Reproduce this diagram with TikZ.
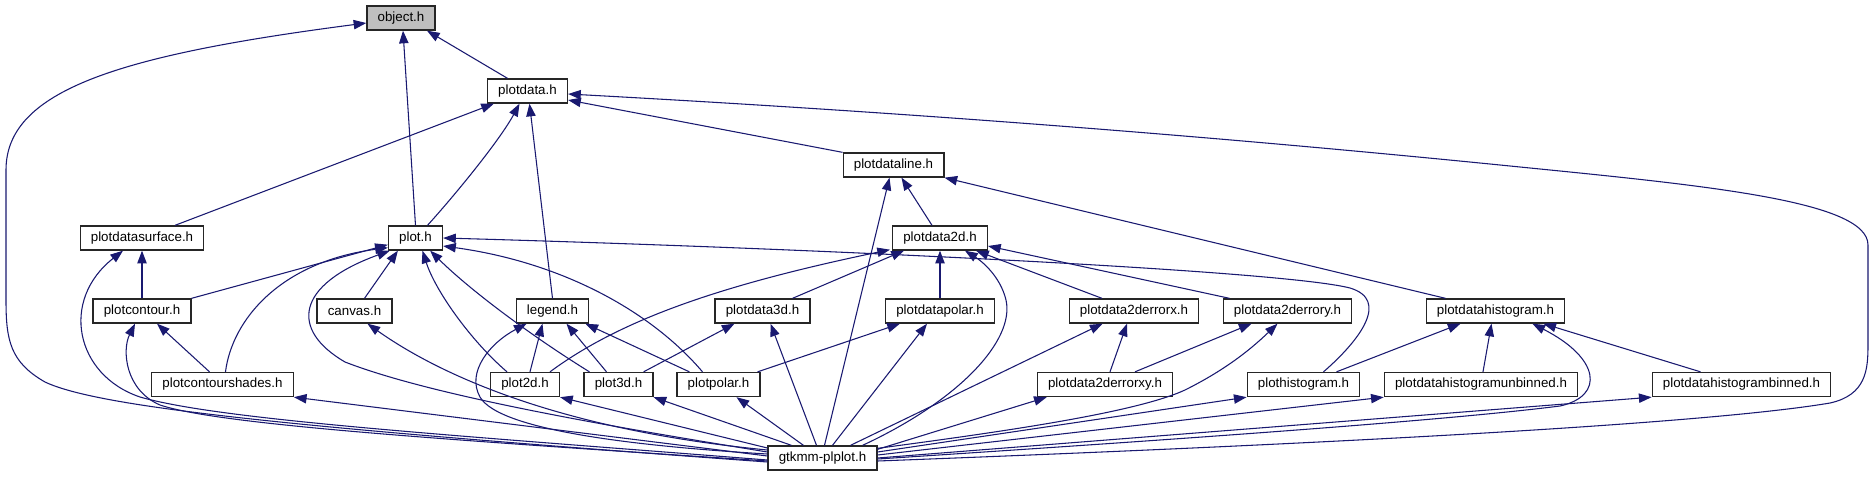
\documentclass[tikz,border=0pt]{standalone}
\usepackage{fontspec}
\setmainfont{Liberation Sans}
\usepackage{tikz}
\usetikzlibrary{arrows.meta,calc}
\definecolor{edgeblue}{HTML}{191970}

\begin{document}
\begin{tikzpicture}[x=0.75pt,y=-0.75pt,
    file/.style={draw=black!85,line width=1pt,fill=white,inner xsep=8pt,inner ysep=0pt,
                 minimum height=18pt,font=\fontsize{10}{12}\selectfont},
    dep/.style={draw=edgeblue,line width=0.8pt,-{Triangle[length=9.5pt,width=7pt]}}]

   \useasboundingbox (0,0) rectangle (1875,476);
   %nodes
   \node[file,fill=black!25] (object) at (401,18) {object.h};
   \node[file] (plotdata) at (527.5,91) {plotdata.h};
   \node[file] (pline) at (893.5,165) {plotdataline.h};
   \node[file] (psurf) at (142,238) {plotdatasurface.h};
   \node[file] (plot) at (415.5,238) {plot.h};
   \node[file] (p2d) at (940,238) {plotdata2d.h};
   \node[file] (pcont) at (142,311) {plotcontour.h};
   \node[file] (canvas) at (354.5,311) {canvas.h};
   \node[file] (legend) at (552.5,311) {legend.h};
   \node[file] (p3d) at (762.5,311) {plotdata3d.h};
   \node[file] (ppolar) at (940,311) {plotdatapolar.h};
   \node[file] (perrx) at (1134,311) {plotdata2derrorx.h};
   \node[file] (perry) at (1287.5,311) {plotdata2derrory.h};
   \node[file] (phist) at (1495.5,311) {plotdatahistogram.h};
   \node[file] (pshades) at (222.5,384.5) {plotcontourshades.h};
   \node[file] (plottwo) at (525,384.5) {plot2d.h};
   \node[file] (plotthree) at (618.5,384.5) {plot3d.h};
   \node[file] (plotpolar) at (718.5,384.5) {plotpolar.h};
   \node[file] (perrxy) at (1105,384.5) {plotdata2derrorxy.h};
   \node[file] (plothist) at (1303.5,384.5) {plothistogram.h};
   \node[file] (punbin) at (1481,384.5) {plotdatahistogramunbinned.h};
   \node[file] (pbin) at (1741.5,384.5) {plotdatahistogrambinned.h};
   \node[file] (gtk) at (822.5,458) {gtkmm-plplot.h};

   %edges to object.h
   \draw[dep] ($(gtk.west)+(0,4)$) .. controls (300,428) and (100,408) .. (45,382) .. controls (10,362) and (6,340) .. (6,300) -- (6,170) .. controls (6,90) and (120,55) .. ($(object.west)+(0,5)$);
   \draw[dep] (plot.north) -- ($(object.south)+(2,0)$);
   \draw[dep] ($(plotdata.north)+(-20,0)$) -- ($(object.south)+(26,0)$);

   %edges to plotdata.h
   \draw[dep] ($(psurf.north)+(33,0)$) -- ($(plotdata.south west)+(7,0)$);
   \draw[dep] ($(plot.north)+(12,0)$) .. controls (455,195) and (500,140) .. ($(plotdata.south)+(-8,0)$);
   \draw[dep] (legend.north) -- ($(plotdata.south)+(2,0)$);
   \draw[dep] (pline.north west) -- ($(plotdata.east)+(0,9)$);
   \draw[dep] ($(gtk.east)+(0,3)$) .. controls (1300,445) and (1700,425) .. (1830,403) .. controls (1866,395) and (1868,370) .. (1868,345) -- (1868,245) .. controls (1868,200) and (1700,185) .. (1500,165) .. controls (1200,135) and (900,112) .. ($(plotdata.east)+(0,3)$);

   %edges to plotdataline.h
   \draw[dep] ($(gtk.north)+(2,0)$) -- ($(pline.south)+(-4,0)$);
   \draw[dep] ($(p2d.north)+(-8,0)$) -- ($(pline.south)+(8,0)$);
   \draw[dep] ($(phist.north)+(-50,0)$) -- (pline.south east);

   %edges to plotdatasurface.h
   \draw[dep] (pcont.north) -- (psurf.south);
   \draw[dep] ($(gtk.west)+(0,2)$) .. controls (450,435) and (220,420) .. (140,397) .. controls (75,375) and (60,300) .. ($(psurf.south)+(-19,0)$);

   %edges to plot.h
   \draw[dep] (pcont.north east) -- ($(plot.south west)+(0,-6)$);
   \draw[dep] ($(pshades.north)+(3,0)$) .. controls (232,320) and (280,262) .. ($(plot.south west)+(0,-3)$);
   \draw[dep] ($(gtk.west)+(0,-6)$) .. controls (600,425) and (430,395) .. (345,362) .. controls (290,330) and (295,285) .. ($(plot.south west)+(2,0)$);
   \draw[dep] ($(canvas.north)+(10,0)$) -- ($(plot.south west)+(10,0)$);
   \draw[dep] ($(plottwo.north)+(-18,0)$) .. controls (470,340) and (435,290) .. ($(plot.south)+(7,0)$);
   \draw[dep] ($(plotthree.north west)+(6,0)$) .. controls (530,335) and (470,290) .. ($(plot.south east)+(-13,0)$);
   \draw[dep] ($(plotpolar.north)+(-16,0)$) .. controls (650,310) and (560,262) .. ($(plot.east)+(0,8)$);
   \draw[dep] ($(plothist.north)+(20,0)$) .. controls (1360,340) and (1390,300) .. (1350,288) .. controls (1280,270) and (800,248) .. (plot.east);

   %edges to plotdata2d.h
   \draw[dep] ($(plottwo.north)+(25,0)$) .. controls (620,320) and (720,285) .. ($(p2d.south west)+(-2,-1)$);
   \draw[dep] ($(p3d.north)+(30,0)$) -- ($(p2d.south west)+(12,0)$);
   \draw[dep] (ppolar.north) -- (p2d.south);
   \draw[dep] ($(gtk.north east)+(-15,0)$) .. controls (960,400) and (1015,340) .. (1006,300) .. controls (1000,275) and (980,260) .. ($(p2d.south)+(25,0)$);
   \draw[dep] ($(perrx.north)+(-32,0)$) -- ($(p2d.south east)+(-12,0)$);
   \draw[dep] ($(perry.north west)+(7,0)$) -- ($(p2d.east)+(0,8)$);

   %third row
   \draw[dep] ($(pshades.north)+(-13,0)$) -- ($(pcont.south)+(15,0)$);
   \draw[dep] ($(gtk.west)+(0,3)$) .. controls (450,440) and (220,425) .. (160,405) .. controls (125,390) and (122,350) .. ($(pcont.south)+(-7,0)$);
   \draw[dep] ($(gtk.west)+(0,-8)$) .. controls (560,430) and (440,375) .. ($(canvas.south)+(13,0)$);
   \draw[dep] ($(plottwo.north)+(5,0)$) -- ($(legend.south)+(-10,0)$);
   \draw[dep] ($(plotthree.north)+(-12,0)$) -- ($(legend.south)+(14,0)$);
   \draw[dep] ($(plotpolar.north west)+(13,0)$) -- ($(legend.south east)+(-4,0)$);
   \draw[dep] ($(gtk.west)+(0,-4)$) .. controls (650,447) and (500,432) .. (480,397) .. controls (466,372) and (490,343) .. ($(legend.south west)+(11,0)$);
   \draw[dep] ($(plotthree.north east)+(-10,0)$) -- ($(p3d.south west)+(20,0)$);
   \draw[dep] ($(gtk.north)+(-6,0)$) -- ($(p3d.south)+(8,0)$);
   \draw[dep] ($(plotpolar.north east)+(-3,0)$) -- ($(ppolar.south west)+(15,0)$);
   \draw[dep] ($(gtk.north)+(10,0)$) -- ($(ppolar.south)+(-13,0)$);
   \draw[dep] ($(perrxy.north)+(5,0)$) -- ($(perrx.south)+(-7,0)$);
   \draw[dep] ($(gtk.north)+(28,0)$) -- ($(perrx.south west)+(34,0)$);
   \draw[dep] ($(perrxy.north)+(30,0)$) -- ($(perry.south west)+(29,0)$);
   \draw[dep] ($(gtk.north east)+(0,3)$) .. controls (1000,432) and (1135,413) .. (1185,390) .. controls (1225,370) and (1250,350) .. ($(perry.south)+(-10,0)$);
   \draw[dep] ($(plothist.north)+(33,0)$) -- ($(phist.south)+(-35,0)$);
   \draw[dep] ($(punbin.north)+(2,0)$) -- ($(phist.south)+(-4,0)$);
   \draw[dep] ($(pbin.north)+(-41,0)$) -- ($(phist.south east)+(-22,0)$);
   \draw[dep] ($(gtk.east)+(0,1)$) .. controls (1200,438) and (1450,420) .. (1560,406) .. controls (1605,396) and (1600,358) .. ($(phist.south east)+(-33,0)$);

   %bottom row
   \draw[dep] ($(gtk.west)+(0,-2)$) -- (pshades.south east);
   \draw[dep] ($(gtk.west)+(0,-10)$) -- (plottwo.south east);
   \draw[dep] ($(gtk.north west)+(24,0)$) -- (plotthree.south east);
   \draw[dep] ($(gtk.north west)+(36,0)$) -- ($(plotpolar.south)+(18,0)$);
   \draw[dep] ($(gtk.north east)+(0,4)$) -- ($(perrxy.south west)+(10,0)$);
   \draw[dep] ($(gtk.east)+(0,-6)$) -- (plothist.south west);
   \draw[dep] ($(gtk.east)+(0,-3)$) -- (punbin.south west);
   \draw[dep] (gtk.east) -- (pbin.south west);

\end{tikzpicture}
\end{document}
